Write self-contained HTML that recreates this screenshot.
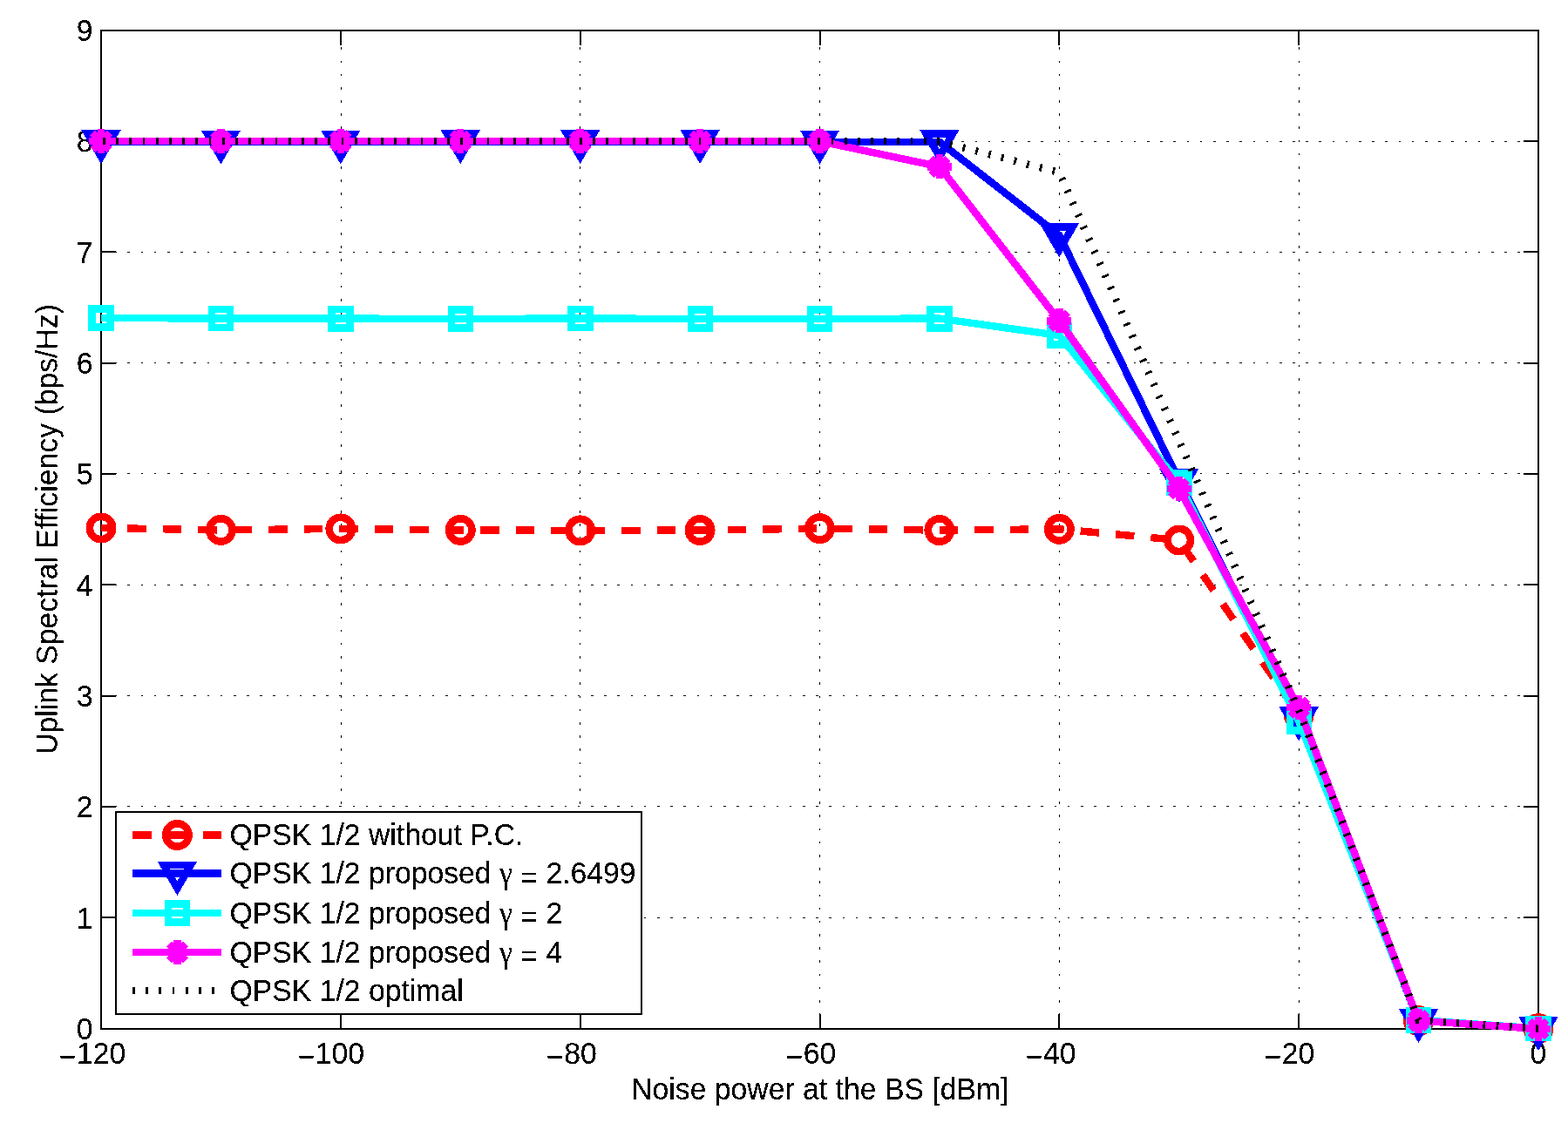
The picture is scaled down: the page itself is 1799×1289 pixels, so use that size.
<!DOCTYPE html>
<html lang="en"><head><meta charset="utf-8"><title>Uplink Spectral Efficiency vs. Noise power at the BS</title>
<style>
html,body{margin:0;padding:0;background:#fff;overflow:hidden}
svg{display:block}
text{font-family:"Liberation Sans",sans-serif;font-size:33.75px;fill:#000;stroke:#000;stroke-width:0.15px;stroke-linejoin:round}
.sym{font-family:"Liberation Serif",serif}
</style></head><body>
<svg width="1799" height="1289" viewBox="0 0 1799 1289">
<defs><filter id="crisp" x="-5%" y="-5%" width="110%" height="110%" color-interpolation-filters="sRGB"><feComponentTransfer><feFuncA type="discrete" tableValues="0 1"/></feComponentTransfer></filter></defs>
<rect x="0" y="0" width="1799" height="1289" fill="#fff"/>
<g shape-rendering="crispEdges" stroke="#000" stroke-width="1" fill="none" stroke-dasharray="2.6 12.59">
<line x1="391.5" y1="1181" x2="391.5" y2="35"/>
<line x1="665.5" y1="1181" x2="665.5" y2="35"/>
<line x1="940.5" y1="1181" x2="940.5" y2="35"/>
<line x1="1215.5" y1="1181" x2="1215.5" y2="35"/>
<line x1="1490.5" y1="1181" x2="1490.5" y2="35"/>
<line x1="116" y1="1053.5" x2="1765" y2="1053.5"/>
<line x1="116" y1="925.5" x2="1765" y2="925.5"/>
<line x1="116" y1="798.5" x2="1765" y2="798.5"/>
<line x1="116" y1="671.5" x2="1765" y2="671.5"/>
<line x1="116" y1="543.5" x2="1765" y2="543.5"/>
<line x1="116" y1="416.5" x2="1765" y2="416.5"/>
<line x1="116" y1="289.5" x2="1765" y2="289.5"/>
<line x1="116" y1="162.5" x2="1765" y2="162.5"/>
</g>
<g shape-rendering="crispEdges" stroke="#000" stroke-width="2" fill="none">
<rect x="116" y="35" width="1649" height="1146"/>
<line x1="391" y1="1181" x2="391" y2="1164"/>
<line x1="391" y1="35" x2="391" y2="52"/>
<line x1="666" y1="1181" x2="666" y2="1164"/>
<line x1="666" y1="35" x2="666" y2="52"/>
<line x1="941" y1="1181" x2="941" y2="1164"/>
<line x1="941" y1="35" x2="941" y2="52"/>
<line x1="1215" y1="1181" x2="1215" y2="1164"/>
<line x1="1215" y1="35" x2="1215" y2="52"/>
<line x1="1490" y1="1181" x2="1490" y2="1164"/>
<line x1="1490" y1="35" x2="1490" y2="52"/>
<line x1="116" y1="1053" x2="133" y2="1053"/>
<line x1="1765" y1="1053" x2="1748" y2="1053"/>
<line x1="116" y1="926" x2="133" y2="926"/>
<line x1="1765" y1="926" x2="1748" y2="926"/>
<line x1="116" y1="799" x2="133" y2="799"/>
<line x1="1765" y1="799" x2="1748" y2="799"/>
<line x1="116" y1="671" x2="133" y2="671"/>
<line x1="1765" y1="671" x2="1748" y2="671"/>
<line x1="116" y1="544" x2="133" y2="544"/>
<line x1="1765" y1="544" x2="1748" y2="544"/>
<line x1="116" y1="417" x2="133" y2="417"/>
<line x1="1765" y1="417" x2="1748" y2="417"/>
<line x1="116" y1="289" x2="133" y2="289"/>
<line x1="1765" y1="289" x2="1748" y2="289"/>
<line x1="116" y1="162" x2="133" y2="162"/>
<line x1="1765" y1="162" x2="1748" y2="162"/>
</g>
<g filter="url(#crisp)">
<text transform="translate(106.6,1193.3) scale(1,1.04)" text-anchor="end">0</text>
<text transform="translate(106.6,1065.89) scale(1,1.04)" text-anchor="end">1</text>
<text transform="translate(106.6,938.48) scale(1,1.04)" text-anchor="end">2</text>
<text transform="translate(106.6,811.07) scale(1,1.04)" text-anchor="end">3</text>
<text transform="translate(106.6,683.66) scale(1,1.04)" text-anchor="end">4</text>
<text transform="translate(106.6,556.24) scale(1,1.04)" text-anchor="end">5</text>
<text transform="translate(106.6,428.83) scale(1,1.04)" text-anchor="end">6</text>
<text transform="translate(106.6,302.02) scale(1,1.04)" text-anchor="end">7</text>
<text transform="translate(106.6,174.01) scale(1,1.04)" text-anchor="end">8</text>
<text transform="translate(106.6,46.6) scale(1,1.04)" text-anchor="end">9</text>
<text transform="translate(144.9,1221) scale(1,1.04)" text-anchor="end"><tspan dx="-0.7" dy="3.7">−</tspan><tspan dx="0.7" dy="-3.7">120</tspan></text>
<text transform="translate(418.8,1221) scale(1,1.04)" text-anchor="end"><tspan dx="-0.7" dy="3.7">−</tspan><tspan dx="0.7" dy="-3.7">100</tspan></text>
<text transform="translate(685.4,1221) scale(1,1.04)" text-anchor="end"><tspan dx="-0.7" dy="3.7">−</tspan><tspan dx="0.7" dy="-3.7">80</tspan></text>
<text transform="translate(960,1221) scale(1,1.04)" text-anchor="end"><tspan dx="-0.7" dy="3.7">−</tspan><tspan dx="0.7" dy="-3.7">60</tspan></text>
<text transform="translate(1235.2,1221) scale(1,1.04)" text-anchor="end"><tspan dx="-0.7" dy="3.7">−</tspan><tspan dx="0.7" dy="-3.7">40</tspan></text>
<text transform="translate(1508.9,1221) scale(1,1.04)" text-anchor="end"><tspan dx="-0.7" dy="3.7">−</tspan><tspan dx="0.7" dy="-3.7">20</tspan></text>
<text transform="translate(1765,1221) scale(1,1.04)" text-anchor="middle">0</text>
</g>
<g filter="url(#crisp)">
<text transform="translate(940.8,1262) scale(1,1.04)" text-anchor="middle">Noise power at the BS [dBm]</text>
<text transform="translate(65.9,607.5) rotate(-90) scale(1,1.04)" text-anchor="middle">Uplink Spectral Efficiency (bps/Hz)</text>
</g>
<g shape-rendering="crispEdges" fill="none" stroke-width="8.44" stroke-linejoin="miter" stroke-miterlimit="10">
<polyline points="116,606 253.42,608.4 390.83,606.9 528.25,608.4 665.67,608.9 803.08,608.6 940.5,606.6 1077.92,608.6 1215.33,607.3 1352.75,620 1490.17,820.5 1627.58,1171.7 1765,1180.7" stroke="#f00" stroke-dasharray="21.5 19" stroke-dashoffset="10.2"/>
<circle cx="116" cy="606" r="13.2" stroke="#f00" stroke-width="8.6"/>
<circle cx="253.42" cy="608.4" r="13.2" stroke="#f00" stroke-width="8.6"/>
<circle cx="390.83" cy="606.9" r="13.2" stroke="#f00" stroke-width="8.6"/>
<circle cx="528.25" cy="608.4" r="13.2" stroke="#f00" stroke-width="8.6"/>
<circle cx="665.67" cy="608.9" r="13.2" stroke="#f00" stroke-width="8.6"/>
<circle cx="803.08" cy="608.6" r="13.2" stroke="#f00" stroke-width="8.6"/>
<circle cx="940.5" cy="606.6" r="13.2" stroke="#f00" stroke-width="8.6"/>
<circle cx="1077.92" cy="608.6" r="13.2" stroke="#f00" stroke-width="8.6"/>
<circle cx="1215.33" cy="607.3" r="13.2" stroke="#f00" stroke-width="8.6"/>
<circle cx="1352.75" cy="620" r="13.2" stroke="#f00" stroke-width="8.6"/>
<circle cx="1490.17" cy="820.5" r="13.2" stroke="#f00" stroke-width="8.6"/>
<circle cx="1627.58" cy="1171.7" r="13.2" stroke="#f00" stroke-width="8.6"/>
<circle cx="1765" cy="1180.7" r="13.2" stroke="#f00" stroke-width="8.6"/>
<polyline points="116,162.95 253.42,163.2 390.83,163.2 528.25,162.8 665.67,162.8 803.08,162.75 940.5,163.2 1077.92,162.8 1215.33,270 1352.75,551.5 1490.17,825 1627.58,1171.7 1765,1180.7" stroke="#00f"/>
<path d="M100.65,153.55 L131.35,153.55 L116,179.95 Z" stroke="#00f"/>
<path d="M238.07,153.8 L268.77,153.8 L253.42,180.2 Z" stroke="#00f"/>
<path d="M375.48,153.8 L406.18,153.8 L390.83,180.2 Z" stroke="#00f"/>
<path d="M512.9,153.4 L543.6,153.4 L528.25,179.8 Z" stroke="#00f"/>
<path d="M650.32,153.4 L681.02,153.4 L665.67,179.8 Z" stroke="#00f"/>
<path d="M787.73,153.35 L818.43,153.35 L803.08,179.75 Z" stroke="#00f"/>
<path d="M925.15,153.8 L955.85,153.8 L940.5,180.2 Z" stroke="#00f"/>
<path d="M1062.57,153.4 L1093.27,153.4 L1077.92,179.8 Z" stroke="#00f"/>
<path d="M1199.98,260.6 L1230.68,260.6 L1215.33,287 Z" stroke="#00f"/>
<path d="M1337.4,542.1 L1368.1,542.1 L1352.75,568.5 Z" stroke="#00f"/>
<path d="M1474.82,815.6 L1505.52,815.6 L1490.17,842 Z" stroke="#00f"/>
<path d="M1612.23,1162.3 L1642.93,1162.3 L1627.58,1188.7 Z" stroke="#00f"/>
<path d="M1749.65,1171.3 L1780.35,1171.3 L1765,1197.7 Z" stroke="#00f"/>
<polyline points="116,365 253.42,365.5 390.83,365.6 528.25,366 665.67,365.5 803.08,366 940.5,366 1077.92,365.6 1215.33,385 1352.75,554 1490.17,828 1627.58,1171 1765,1180.5" stroke="#0ff"/>
<rect x="105.65" y="354.3" width="21" height="21.4" stroke="#0ff"/>
<rect x="243.07" y="354.8" width="21" height="21.4" stroke="#0ff"/>
<rect x="380.48" y="354.9" width="21" height="21.4" stroke="#0ff"/>
<rect x="517.9" y="355.3" width="21" height="21.4" stroke="#0ff"/>
<rect x="655.32" y="354.8" width="21" height="21.4" stroke="#0ff"/>
<rect x="792.73" y="355.3" width="21" height="21.4" stroke="#0ff"/>
<rect x="930.15" y="355.3" width="21" height="21.4" stroke="#0ff"/>
<rect x="1067.57" y="354.9" width="21" height="21.4" stroke="#0ff"/>
<rect x="1204.98" y="374.3" width="21" height="21.4" stroke="#0ff"/>
<rect x="1342.4" y="543.3" width="21" height="21.4" stroke="#0ff"/>
<rect x="1479.82" y="817.3" width="21" height="21.4" stroke="#0ff"/>
<rect x="1617.23" y="1160.3" width="21" height="21.4" stroke="#0ff"/>
<rect x="1754.65" y="1169.8" width="21" height="21.4" stroke="#0ff"/>
<polyline points="116,162.1 253.42,162.1 390.83,162.1 528.25,162.1 665.67,162.1 803.08,162.1 940.5,162.1 1077.92,191.3 1215.33,368.4 1352.75,561.2 1490.17,812.1 1627.58,1171.6 1765,1181" stroke="#f0f"/>
<path d="M102,162.1 H130 M116,148.1 V176.1 M106.31,152.41 L125.69,171.79 M106.31,171.79 L125.69,152.41" stroke="#f0f"/>
<path d="M239.42,162.1 H267.42 M253.42,148.1 V176.1 M243.73,152.41 L263.1,171.79 M243.73,171.79 L263.1,152.41" stroke="#f0f"/>
<path d="M376.83,162.1 H404.83 M390.83,148.1 V176.1 M381.15,152.41 L400.52,171.79 M381.15,171.79 L400.52,152.41" stroke="#f0f"/>
<path d="M514.25,162.1 H542.25 M528.25,148.1 V176.1 M518.56,152.41 L537.94,171.79 M518.56,171.79 L537.94,152.41" stroke="#f0f"/>
<path d="M651.67,162.1 H679.67 M665.67,148.1 V176.1 M655.98,152.41 L675.35,171.79 M655.98,171.79 L675.35,152.41" stroke="#f0f"/>
<path d="M789.08,162.1 H817.08 M803.08,148.1 V176.1 M793.4,152.41 L812.77,171.79 M793.4,171.79 L812.77,152.41" stroke="#f0f"/>
<path d="M926.5,162.1 H954.5 M940.5,148.1 V176.1 M930.81,152.41 L950.19,171.79 M930.81,171.79 L950.19,152.41" stroke="#f0f"/>
<path d="M1063.92,191.3 H1091.92 M1077.92,177.3 V205.3 M1068.23,181.61 L1087.6,200.99 M1068.23,200.99 L1087.6,181.61" stroke="#f0f"/>
<path d="M1201.33,368.4 H1229.33 M1215.33,354.4 V382.4 M1205.65,358.71 L1225.02,378.09 M1205.65,378.09 L1225.02,358.71" stroke="#f0f"/>
<path d="M1338.75,561.2 H1366.75 M1352.75,547.2 V575.2 M1343.06,551.51 L1362.44,570.89 M1343.06,570.89 L1362.44,551.51" stroke="#f0f"/>
<path d="M1476.17,812.1 H1504.17 M1490.17,798.1 V826.1 M1480.48,802.41 L1499.85,821.79 M1480.48,821.79 L1499.85,802.41" stroke="#f0f"/>
<path d="M1613.58,1171.6 H1641.58 M1627.58,1157.6 V1185.6 M1617.9,1161.91 L1637.27,1181.29 M1617.9,1181.29 L1637.27,1161.91" stroke="#f0f"/>
<path d="M1751,1181 H1779 M1765,1167 V1195 M1755.31,1171.31 L1774.69,1190.69 M1755.31,1190.69 L1774.69,1171.31" stroke="#f0f"/>
<polyline points="116,162.1 253.42,162.1 390.83,162.1 528.25,162.1 665.67,162.1 803.08,162.1 940.5,162.1 1077.92,162.3 1215.33,198 1352.75,506 1490.17,815 1627.58,1171 1765,1180.8" stroke="#000" stroke-dasharray="2.8 12.39" stroke-dashoffset="-2.1"/>
</g>
<g shape-rendering="crispEdges">
<rect x="133" y="932" width="603" height="232" fill="#fff" stroke="#000" stroke-width="2"/>
</g>
<g shape-rendering="crispEdges" fill="none" stroke-width="8.44" stroke-linejoin="miter" stroke-miterlimit="10">
<line x1="152" y1="958.5" x2="254" y2="958.5" stroke="#f00" stroke-dasharray="21.5 19"/>
<circle cx="203.4" cy="958.5" r="13.2" stroke="#f00" stroke-width="8.6"/>
<line x1="152" y1="1002.6" x2="254" y2="1002.6" stroke="#00f"/>
<path d="M188.05,993.2 L218.75,993.2 L203.4,1019.6 Z" stroke="#00f"/>
<line x1="152" y1="1048" x2="254" y2="1048" stroke="#0ff"/>
<rect x="193.05" y="1037.3" width="21" height="21.4" stroke="#0ff"/>
<line x1="152" y1="1093" x2="254" y2="1093" stroke="#f0f"/>
<path d="M189.4,1093 H217.4 M203.4,1079 V1107 M193.71,1083.31 L213.09,1102.69 M193.71,1102.69 L213.09,1083.31" stroke="#f0f"/>
<line x1="152" y1="1137" x2="254" y2="1137" stroke="#000" stroke-dasharray="2.8 12.39"/>
</g>
<g filter="url(#crisp)">
<text transform="translate(263.5,969.7) scale(1,1.04)">QPSK 1/2 without P.C.</text>
<text transform="translate(263.5,1014.3) scale(1,1.04)">QPSK 1/2 proposed <tspan class="sym">γ</tspan> <tspan dy="4.6">=</tspan><tspan dy="-4.6"> 2.6499</tspan></text>
<text transform="translate(263.5,1059.7) scale(1,1.04)">QPSK 1/2 proposed <tspan class="sym">γ</tspan> <tspan dy="4.6">=</tspan><tspan dy="-4.6"> 2</tspan></text>
<text transform="translate(263.5,1104.7) scale(1,1.04)">QPSK 1/2 proposed <tspan class="sym">γ</tspan> <tspan dy="4.6">=</tspan><tspan dy="-4.6"> 4</tspan></text>
<text transform="translate(263.5,1148.7) scale(1,1.04)">QPSK 1/2 optimal</text>
</g>
</svg>
</body></html>
